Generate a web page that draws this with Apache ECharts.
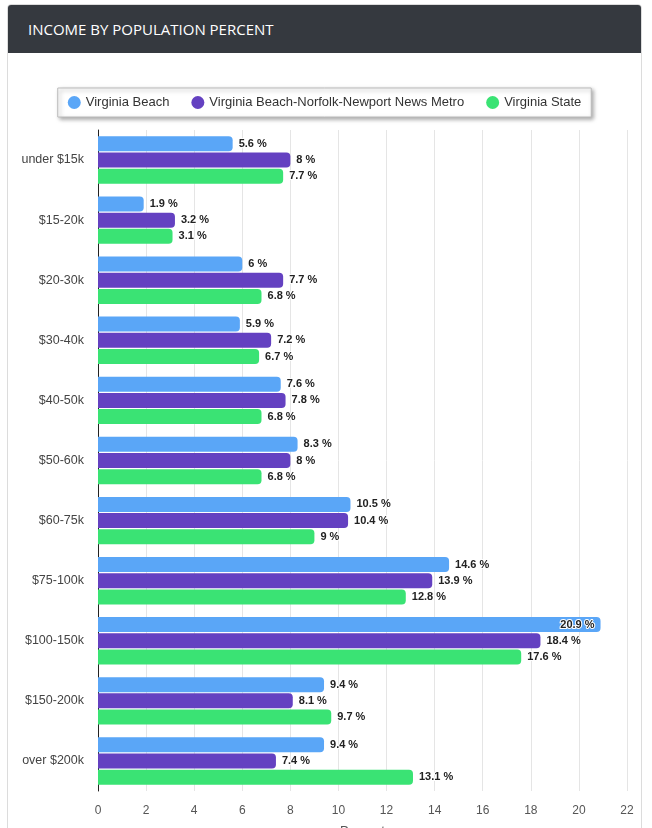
<!DOCTYPE html>
<html>
<head>
<meta charset="utf-8">
<script src="https://cdn.jsdelivr.net/npm/echarts@6/dist/echarts.min.js"></script>
<style>
    html, body { margin: 0; padding: 0; background: #fff; overflow: hidden; }
    #card {
        position: absolute; left: 7px; top: 4px; width: 633px; height: 840px;
        border: 1px solid #dcdcdc; border-radius: 4px 4px 0 0; background: #fff;
    }
    #head {
        height: 48px; background: #35393f; color: #fff; border-radius: 3px 3px 0 0;
        font-family: "Open Sans", sans-serif; font-size: 15px; line-height: 48px; padding-left: 20px;
    }
    #chart { position: absolute; left: 0; top: 48px; width: 633px; height: 776px; }
</style>
</head>
<body>
<div id="card">
    <div id="head">INCOME BY POPULATION PERCENT</div>
    <div id="chart"></div>
</div>
<script>
    var categories = ['under $15k', '$15-20k', '$20-30k', '$30-40k', '$40-50k', '$50-60k',
        '$60-75k', '$75-100k', '$100-150k', '$150-200k', 'over $200k'];
    var seriesNames = ['Virginia Beach', 'Virginia Beach-Norfolk-Newport News Metro', 'Virginia State'];
    var virginiaBeach = [5.6, 1.9, 6, 5.9, 7.6, 8.3, 10.5, 14.6, 20.9, 9.4, 9.4];
    var metro = [8, 3.2, 7.7, 7.2, 7.8, 8, 10.4, 13.9, 18.4, 8.1, 7.4];
    var state = [7.7, 3.1, 6.8, 6.7, 6.8, 6.8, 9, 12.8, 17.6, 9.7, 13.1];
    var colors = ['#5aa6f7', '#6441c1', '#3ae374'];

    var chart = echarts.init(document.getElementById('chart'));

    // 超出坐标范围的标签放在柱内
    function toData(arr) {
        return arr.map(function (v) {
            if (v > 20) {
                return { value: v, label: { position: 'insideRight', offset: [0, 0] } };
            }
            return v;
        });
    }

    var label = {
        show: true,
        position: 'right',
        distance: 6,
        formatter: '{c} %',
        color: '#222',
        fontSize: 11,
        fontWeight: 'bold',
        fontFamily: 'Arial, sans-serif',
        textBorderColor: '#fff',
        textBorderWidth: 2
    };

    var allData = [virginiaBeach, metro, state];
    var series = allData.map(function (arr, i) {
        return {
            name: seriesNames[i],
            type: 'bar',
            data: toData(arr),
            barWidth: 15,
            barGap: '8%',
            itemStyle: { color: colors[i], borderRadius: [0, 4, 4, 0] },
            label: label
        };
    });

    var option = {
        animation: false,
        legend: {
            top: 35,
            left: 'center',
            data: seriesNames,
            icon: 'circle',
            itemWidth: 13,
            itemHeight: 13,
            itemGap: 22,
            padding: [8, 10, 8, 10],
            backgroundColor: '#fff',
            borderColor: '#bbb',
            borderWidth: 1,
            shadowColor: 'rgba(0,0,0,0.35)',
            shadowBlur: 4,
            shadowOffsetX: 2,
            shadowOffsetY: 2,
            textStyle: { color: '#333', fontSize: 13, fontFamily: 'Arial, sans-serif' }
        },
        grid: {
            left: 90,
            right: 14,
            top: 77,
            bottom: 38,
            containLabel: false,
            outerBoundsMode: 'none'
        },
        xAxis: {
            type: 'value',
            min: 0,
            max: 22,
            interval: 2,
            name: 'Percent',
            nameLocation: 'middle',
            nameGap: 34,
            nameTextStyle: { color: '#555', fontSize: 13, fontFamily: 'Arial, sans-serif' },
            axisLine: { show: false },
            axisTick: { show: false },
            axisLabel: { color: '#555', fontSize: 12, margin: 14, fontFamily: 'Arial, sans-serif' },
            splitLine: { lineStyle: { color: '#e5e5e5' } }
        },
        yAxis: {
            type: 'category',
            data: categories,
            inverse: true,
            axisLine: { lineStyle: { color: '#222' } },
            axisTick: { show: false },
            axisLabel: { color: '#444', fontSize: 12.5, margin: 14, fontFamily: 'Arial, sans-serif' }
        },
        series: series
    };
    chart.setOption(option);
</script>
</body>
</html>
